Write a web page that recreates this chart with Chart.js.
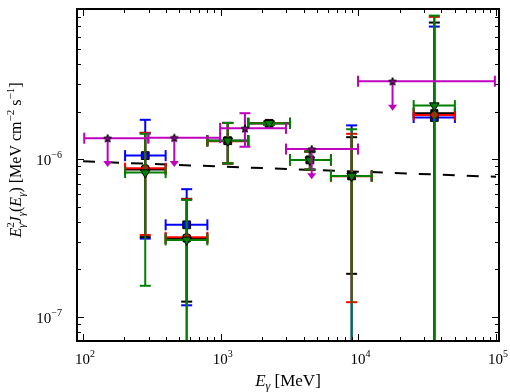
<!DOCTYPE html>
<html>
<head>
<meta charset="utf-8">
<script src="https://cdn.jsdelivr.net/npm/chart.js@4.4.1/dist/chart.umd.min.js"></script>
<style>
  html, body { margin: 0; background: #fff; }
</style>
</head>
<body>
<canvas id="sed" width="510" height="392"></canvas>
<script>
// energy bins (MeV)
const energy = [283, 566, 1125, 2245, 4443, 8930, 35600];
const energyLow = [202, 398, 800, 1585, 3185, 6320, 25200];
const energyHigh = [398, 800, 1585, 3185, 6320, 12500, 50200];

// E^2 J(E) in MeV cm^-2 s^-1 ; 1e-9 means the bar runs off the bottom
const blueFlux = [1.054e-6, 3.83e-7, 1.31e-6, 1.69e-6, 9.9e-7, 7.83e-7, 1.84e-6];
const blueHigh = [1.78e-6, 6.45e-7, 1.70e-6, 1.73e-6, 1.12e-6, 1.64e-6, 6.96e-6];
const blueLow = [3.13e-7, 1.18e-7, 9.4e-7, 1.65e-6, 8.6e-7, 1e-9, 1e-9];

const blackFlux = [8.6e-7, 3.14e-7, 1.31e-6, 1.69e-6, 9.9e-7, 7.83e-7, 1.96e-6];
const blackHigh = [1.47e-6, 5.6e-7, 1.70e-6, 1.73e-6, 1.12e-6, 1.38e-6, 7.38e-6];
const blackLow = [3.2e-7, 1.245e-7, 9.4e-7, 1.65e-6, 8.55e-7, 1.87e-7, 1e-9];

const redFlux = [8.77e-7, 3.19e-7, 1.30e-6, 1.69e-6, 9.9e-7, 7.8e-7, 1.91e-6];
const redHigh = [1.47e-6, 5.57e-7, 1.70e-6, 1.73e-6, 1.12e-6, 1.45e-6, 8.02e-6];
const redLow = [3.3e-7, 1e-9, 9.4e-7, 1.65e-6, 8.6e-7, 1.235e-7, 1e-9];

const greenFlux = [8.22e-7, 3.07e-7, 1.31e-6, 1.69e-6, 9.9e-7, 7.83e-7, 2.19e-6];
const greenHigh = [1.45e-6, 5.51e-7, 1.70e-6, 1.73e-6, 1.12e-6, 1.55e-6, 8.17e-6];
const greenLow = [1.57e-7, 1e-9, 9.4e-7, 1.65e-6, 8.6e-7, 1e-9, 1e-9];

// magenta stars: upper limits except the third one
const starEnergy = [151, 460, 1500, 4580, 17700];
const starLow = [102, 298, 990, 2980, 9930];
const starHigh = [298, 990, 2980, 9930, 98000];
const starFlux = [1.36e-6, 1.37e-6, 1.57e-6, 1.16e-6, 3.13e-6];
const starErrHigh = [null, null, 1.96e-6, null, null];
const starErrLow = [null, null, 1.20e-6, null, null];
const starArrow = [9.06e-7, 9.06e-7, null, 7.57e-7, 2.06e-6];

// dashed model line
const modelEnergy = [100, 100000];
const modelFlux = [9.69e-7, 7.73e-7];

const xTickPowers = [2, 3, 4, 5];
const yTickPowers = [-6, -7];

const FONT = '"Liberation Serif", "DejaVu Serif", serif';

function points(xs, ys) {
  return xs.map((v, i) => ({ x: v, y: ys[i] }));
}

function bars(xs, ys, xl, xh, yl, yh, ul) {
  return xs.map((v, i) => ({
    x: v, y: ys[i], xl: xl[i], xh: xh[i],
    yl: yl ? yl[i] : null, yh: yh ? yh[i] : null, ul: ul ? ul[i] : null
  }));
}

function starImage(size) {
  const c = document.createElement('canvas');
  c.width = c.height = size;
  const g = c.getContext('2d');
  const r = size / 2 - 0.8, cx = size / 2, cy = size / 2 + 0.5;
  g.beginPath();
  for (let k = 0; k < 10; k++) {
    const rr = k % 2 ? r * 0.45 : r;
    const ang = -Math.PI / 2 + k * Math.PI / 5;
    g.lineTo(cx + rr * Math.cos(ang), cy + rr * Math.sin(ang));
  }
  g.closePath();
  g.fillStyle = '#8a008a';
  g.fill();
  g.strokeStyle = '#000';
  g.lineWidth = 1;
  g.stroke();
  return c;
}

function line(ctx, x0, y0, x1, y1) {
  ctx.beginPath();
  ctx.moveTo(x0, y0);
  ctx.lineTo(x1, y1);
  ctx.stroke();
}

const errorBars = {
  id: 'errorBars',
  beforeDatasetDraw(chart, args) {
    const ds = chart.data.datasets[args.index];
    if (!ds.err) return;
    const { ctx, chartArea: a } = chart;
    const x = chart.scales.x, y = chart.scales.y;
    const cap = 5.5;
    ctx.save();
    ctx.beginPath();
    ctx.rect(a.left, a.top, a.right - a.left, a.bottom - a.top);
    ctx.clip();
    ctx.strokeStyle = ds.barColor;
    ctx.fillStyle = ds.barColor;
    ctx.lineWidth = 2;
    ds.err.forEach(p => {
      const px = x.getPixelForValue(p.x), py = y.getPixelForValue(p.y);
      const x0 = x.getPixelForValue(p.xl), x1 = x.getPixelForValue(p.xh);
      line(ctx, x0, py, x1, py);
      line(ctx, x0, py - cap, x0, py + cap);
      line(ctx, x1, py - cap, x1, py + cap);
      if (p.yh != null) {
        const y0 = y.getPixelForValue(p.yl), y1 = y.getPixelForValue(p.yh);
        line(ctx, px, y0, px, y1);
        line(ctx, px - cap, y0, px + cap, y0);
        line(ctx, px - cap, y1, px + cap, y1);
      }
      if (p.ul != null) {
        const yt = y.getPixelForValue(p.ul);
        line(ctx, px, py, px, yt - 4);
        ctx.beginPath();
        ctx.moveTo(px - 4.5, yt - 5);
        ctx.lineTo(px + 4.5, yt - 5);
        ctx.lineTo(px, yt + 1);
        ctx.closePath();
        ctx.fill();
      }
    });
    ctx.restore();
  }
};

function fontOf(s) {
  return (s.it ? 'italic ' : '') + s.size + 'px ' + FONT;
}

function drawRich(ctx, segs, cx, baseline) {
  let total = 0;
  const widths = segs.map(s => {
    ctx.font = fontOf(s);
    const w = ctx.measureText(s.t).width;
    if (!s.stack) total += w;
    return w;
  });
  let pos = cx - total / 2;
  ctx.textAlign = 'left';
  ctx.textBaseline = 'alphabetic';
  segs.forEach((s, i) => {
    ctx.font = fontOf(s);
    ctx.fillText(s.t, pos, baseline + (s.dy || 0));
    if (!s.stack) pos += widths[i];
  });
}

function powerLabel(p) {
  const exp = p < 0 ? '\u2212' + (-p) : String(p);
  return [{ t: '10', size: 15 }, { t: exp, size: 10, dy: -7 }];
}

const frame = {
  id: 'frame',
  afterDraw(chart) {
    const { ctx, chartArea: a } = chart;
    const x = chart.scales.x, y = chart.scales.y;
    ctx.save();
    ctx.strokeStyle = '#000';
    ctx.fillStyle = '#000';
    ctx.lineWidth = 1;
    for (let d = 1; d <= 5; d++) {
      for (let m = 1; m <= 9; m++) {
        const v = m * Math.pow(10, d);
        if (v < x.min || v > x.max) continue;
        const px = Math.round(x.getPixelForValue(v)) + 0.5;
        const len = m === 1 ? 7 : 4;
        line(ctx, px, a.bottom, px, a.bottom - len);
        line(ctx, px, a.top, px, a.top + len);
      }
    }
    for (let d = -9; d <= -5; d++) {
      for (let m = 1; m <= 9; m++) {
        const v = m * Math.pow(10, d);
        if (v < y.min || v > y.max) continue;
        const py = Math.round(y.getPixelForValue(v)) + 0.5;
        const len = m === 1 ? 7 : 4;
        line(ctx, a.left, py, a.left + len, py);
        line(ctx, a.right, py, a.right - len, py);
      }
    }
    ctx.lineWidth = 2;
    ctx.strokeRect(a.left, a.top, a.right - a.left, a.bottom - a.top);

    xTickPowers.forEach(p => {
      drawRich(ctx, powerLabel(p), x.getPixelForValue(Math.pow(10, p)) + 2, a.bottom + 23);
    });
    yTickPowers.forEach(p => {
      const segs = powerLabel(p);
      ctx.font = fontOf(segs[0]);
      const w0 = ctx.measureText(segs[0].t).width;
      ctx.font = fontOf(segs[1]);
      const w1 = ctx.measureText(segs[1].t).width;
      drawRich(ctx, segs, a.left - 15 - (w0 + w1) / 2, y.getPixelForValue(Math.pow(10, p)) + 6);
    });

    // axis titles
    drawRich(ctx, [
      { t: 'E', size: 17, it: true },
      { t: '\u03b3', size: 12, it: true, dy: 4 },
      { t: ' [MeV]', size: 17 }
    ], (a.left + a.right) / 2, 386);

    ctx.translate(21, 160);
    ctx.rotate(-Math.PI / 2);
    drawRich(ctx, [
      { t: 'E', size: 16, it: true },
      { t: '2', size: 11, dy: -7, stack: true },
      { t: '\u03b3', size: 11, it: true, dy: 4 },
      { t: 'J', size: 16, it: true },
      { t: '\u03b3', size: 11, it: true, dy: 4 },
      { t: '(', size: 16 },
      { t: 'E', size: 16, it: true },
      { t: '\u03b3', size: 11, it: true, dy: 4 },
      { t: ')', size: 16 },
      { t: ' [MeV cm', size: 16 },
      { t: '\u22122', size: 11, dy: -7 },
      { t: ' s', size: 16 },
      { t: '\u22121', size: 11, dy: -7 },
      { t: ']', size: 16 }
    ], 0, 0);
    ctx.restore();
  }
};

const chart = new Chart(document.getElementById('sed').getContext('2d'), {
  type: 'scatter',
  data: {
    datasets: [
      {
        label: 'model',
        data: points(modelEnergy, modelFlux),
        showLine: true,
        borderColor: '#000',
        borderWidth: 2,
        borderDash: [12, 12],
        pointRadius: 0,
        order: 6
      },
      {
        label: 'blue',
        data: points(energy, blueFlux),
        err: bars(energy, blueFlux, energyLow, energyHigh, blueLow, blueHigh),
        barColor: '#0000ff',
        pointStyle: 'rect',
        pointRadius: 5.5,
        backgroundColor: '#0000ff',
        borderColor: '#000',
        borderWidth: 1,
        order: 5
      },
      {
        label: 'black',
        data: points(energy, blackFlux),
        err: bars(energy, blackFlux, energyLow, energyHigh, blackLow, blackHigh),
        barColor: '#000',
        pointStyle: 'rect',
        pointRadius: 5,
        backgroundColor: '#000',
        borderColor: '#000',
        borderWidth: 1,
        order: 4
      },
      {
        label: 'red',
        data: points(energy, redFlux),
        err: bars(energy, redFlux, energyLow, energyHigh, redLow, redHigh),
        barColor: '#ff0000',
        pointStyle: 'circle',
        pointRadius: 3.8,
        backgroundColor: '#ff0000',
        borderColor: '#000',
        borderWidth: 1,
        order: 3
      },
      {
        label: 'green',
        data: points(energy, greenFlux),
        err: bars(energy, greenFlux, energyLow, energyHigh, greenLow, greenHigh),
        barColor: '#008000',
        pointStyle: 'triangle',
        rotation: 180,
        pointRadius: 5.5,
        backgroundColor: '#008000',
        borderColor: '#000',
        borderWidth: 1,
        order: 2
      },
      {
        label: 'stars',
        data: points(starEnergy, starFlux),
        err: bars(starEnergy, starFlux, starLow, starHigh, starErrLow, starErrHigh, starArrow),
        barColor: '#bf00bf',
        pointStyle: starImage(10),
        pointRadius: 5,
        order: 1
      }
    ]
  },
  options: {
    responsive: false,
    animation: false,
    devicePixelRatio: 1,
    events: [],
    layout: { padding: { left: 77, top: 9, right: 11, bottom: 51 } },
    plugins: { legend: { display: false }, tooltip: { enabled: false } },
    scales: {
      x: { type: 'logarithmic', min: 90.4, max: 1.05e5, display: false },
      y: { type: 'logarithmic', min: 7.0e-8, max: 9.0e-6, display: false }
    }
  },
  plugins: [errorBars, frame]
});
</script>
</body>
</html>
